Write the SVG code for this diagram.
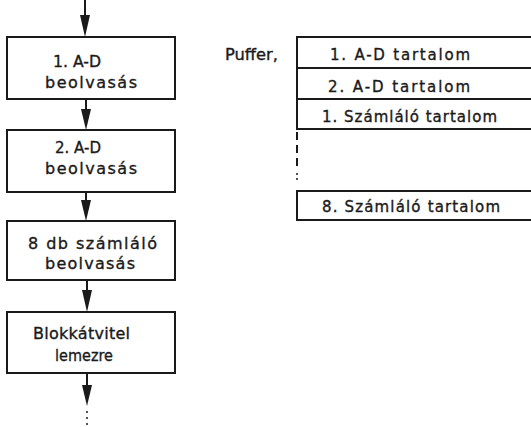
<svg xmlns="http://www.w3.org/2000/svg" width="531" height="427" viewBox="0 0 531 427">
<style>
.box{fill:#fff;stroke:#1a1a1a;stroke-width:2}
.ln{stroke:#1a1a1a;stroke-width:2;fill:none}
.ah{fill:#1a1a1a}
text{font-family:"DejaVu Sans","Liberation Sans",sans-serif;fill:#1a1a1a;stroke:#1a1a1a;stroke-width:0.35}
.l{font-size:16px}
.r{font-size:15px}
</style>
<g id="connectors">
<line class="ln" x1="85" y1="0" x2="85" y2="30"/>
<polygon class="ah" points="80,15 90,15 85,37"/>
<line class="ln" x1="86" y1="99" x2="86" y2="122"/>
<polygon class="ah" points="81,109 91,109 86,130"/>
<line class="ln" x1="86" y1="192" x2="86" y2="214"/>
<polygon class="ah" points="81,200 91,200 86,221"/>
<line class="ln" x1="87" y1="280" x2="87" y2="304"/>
<polygon class="ah" points="82,290 92,290 87,312"/>
<line class="ln" x1="87" y1="373" x2="87" y2="398"/>
<polygon class="ah" points="82,385 92,385 87,406"/>
<circle cx="87" cy="412" r="1" fill="#1a1a1a"/>
<circle cx="87" cy="418" r="1" fill="#1a1a1a"/>
<circle cx="87" cy="424" r="1" fill="#1a1a1a"/>
</g>
<g id="n1">
<rect class="box" x="7" y="37" width="168" height="62"/>
<text class="l" x="53" y="67" textLength="48" lengthAdjust="spacingAndGlyphs">1. A-D</text>
<text class="l" x="45" y="88" textLength="92" lengthAdjust="spacing">beolvasás</text>
</g>
<g id="n2">
<rect class="box" x="7" y="130" width="168" height="62"/>
<text class="l" x="55" y="153" textLength="46" lengthAdjust="spacingAndGlyphs">2. A-D</text>
<text class="l" x="45" y="174" textLength="92" lengthAdjust="spacing">beolvasás</text>
</g>
<g id="n3">
<rect class="box" x="7" y="221" width="168" height="59"/>
<text class="l" x="28" y="249" textLength="129" lengthAdjust="spacing">8 db számláló</text>
<text class="l" x="45" y="269" textLength="90" lengthAdjust="spacing">beolvasás</text>
</g>
<g id="n4">
<rect class="box" x="7" y="312" width="168" height="61"/>
<text class="l" x="33" y="339" textLength="97" lengthAdjust="spacing">Blokkátvitel</text>
<text class="l" x="55" y="361" textLength="58" lengthAdjust="spacingAndGlyphs">lemezre</text>
</g>
<g id="puffer">
<text class="r" x="225" y="60" textLength="53" lengthAdjust="spacingAndGlyphs">Puffer,</text>
<line class="ln" x1="297" y1="37" x2="531" y2="37"/>
<line class="ln" x1="297" y1="68" x2="531" y2="68"/>
<line class="ln" x1="297" y1="99" x2="531" y2="99"/>
<line class="ln" x1="297" y1="129" x2="531" y2="129"/>
<line class="ln" x1="297" y1="191" x2="531" y2="191"/>
<line class="ln" x1="297" y1="220" x2="531" y2="220"/>
<line class="ln" x1="297" y1="36" x2="297" y2="130"/>
<line class="ln" x1="297" y1="132" x2="297" y2="170" stroke-dasharray="8,5"/>
<circle cx="297" cy="174" r="1" fill="#1a1a1a"/>
<circle cx="297" cy="179" r="1" fill="#1a1a1a"/>
<line class="ln" x1="297" y1="190" x2="297" y2="221"/>
<text class="r" x="330" y="60" textLength="140" lengthAdjust="spacing">1. A-D tartalom</text>
<text class="r" x="328" y="92" textLength="142" lengthAdjust="spacing">2. A-D tartalom</text>
<text class="r" x="322" y="122" textLength="175" lengthAdjust="spacing">1. Számláló tartalom</text>
<text class="r" x="322" y="212" textLength="178" lengthAdjust="spacing">8. Számláló tartalom</text>
</g>
</svg>
